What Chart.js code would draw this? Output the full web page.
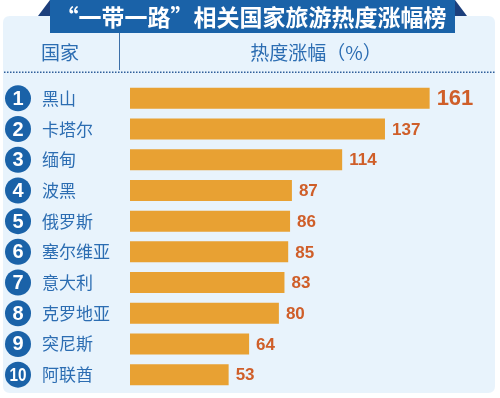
<!DOCTYPE html>
<html>
<head>
<meta charset="utf-8">
<script src="https://cdn.jsdelivr.net/npm/chart.js@4/dist/chart.umd.min.js"></script>
<style>
html,body{margin:0;padding:0;background:#fff;}
canvas{display:block;}
</style>
</head>
<body>
<canvas id="c" width="500" height="398"></canvas>
<script>
const title = '“一带一路”相关国家旅游热度涨幅榜';
const headerLeft = '国家';
const headerRight = '热度涨幅（%）';
const ranks = ['1','2','3','4','5','6','7','8','9','10'];
const categories = ['黑山','卡塔尔','缅甸','波黑','俄罗斯','塞尔维亚','意大利','克罗地亚','突尼斯','阿联酋'];
const values = [161,137,114,87,86,85,83,80,64,53];

const CJK = '"Noto Sans CJK SC","Noto Sans",sans-serif';
const LAT = '"Liberation Sans",Arial,sans-serif';
const BLUE_TXT = '#2c6db2';
const BANNER = '#1a62a8';
const EAR = '#1c3f7c';
const PANEL = '#e8f3fc';
const BAR = '#e8a133';
const VAL = '#cf5e29';

function roundRect(ctx,x,y,w,h,r){
  ctx.beginPath();
  ctx.moveTo(x+r,y);
  ctx.lineTo(x+w-r,y);ctx.quadraticCurveTo(x+w,y,x+w,y+r);
  ctx.lineTo(x+w,y+h-r);ctx.quadraticCurveTo(x+w,y+h,x+w-r,y+h);
  ctx.lineTo(x+r,y+h);ctx.quadraticCurveTo(x,y+h,x,y+h-r);
  ctx.lineTo(x,y+r);ctx.quadraticCurveTo(x,y,x+r,y);
  ctx.closePath();
}

const decor = {
  id:'decor',
  beforeDraw(chart){
    const ctx = chart.ctx;
    ctx.save();
    ctx.fillStyle='#fff';
    ctx.fillRect(0,0,chart.width,chart.height);
    // panel
    ctx.fillStyle=PANEL;
    roundRect(ctx,3,16,492,377,7);
    ctx.fill();
    // ears
    ctx.fillStyle=EAR;
    ctx.beginPath();ctx.moveTo(38,16);ctx.lineTo(50,0);ctx.lineTo(50,16);ctx.closePath();ctx.fill();
    ctx.beginPath();ctx.moveTo(455,0);ctx.lineTo(467,16);ctx.lineTo(455,16);ctx.closePath();ctx.fill();
    // banner
    ctx.fillStyle=BANNER;
    ctx.fillRect(50,0,405,33);
    ctx.fillStyle='#fff';
    ctx.font='bold 23px '+CJK;
    ctx.textAlign='center';ctx.textBaseline='middle';
    ctx.fillText(title,251,17);
    // header
    ctx.fillStyle=BLUE_TXT;
    ctx.font='19px '+CJK;
    ctx.fillText(headerLeft,60,53);
    ctx.fillText(headerRight,316,53);
    ctx.strokeStyle='#3c6fa8';
    ctx.lineWidth=1;
    ctx.beginPath();ctx.moveTo(119.5,33);ctx.lineTo(119.5,70);ctx.stroke();
    // dotted line
    ctx.fillStyle='#2f5f9a';
    for(let x=4;x<495;x+=3){ctx.fillRect(x,71.5,1.5,1.5);}
    ctx.restore();
  },
  afterDatasetsDraw(chart){
    const ctx = chart.ctx;
    const ys = chart.scales.y, xs = chart.scales.x;
    ctx.save();
    categories.forEach((name,i)=>{
      const y = ys.getPixelForValue(i);
      // rank circle
      ctx.fillStyle=BANNER;
      ctx.beginPath();ctx.arc(18,y,13,0,Math.PI*2);ctx.fill();
      ctx.fillStyle='#fff';
      ctx.textAlign='center';ctx.textBaseline='middle';
      if(ranks[i].length>1){
        ctx.font='bold 18px '+LAT;
        ctx.save();ctx.translate(18,y+1);ctx.scale(0.85,1);ctx.fillText(ranks[i],0,0);ctx.restore();
      } else {
        ctx.font='bold 20px '+LAT;
        ctx.fillText(ranks[i],18,y+1);
      }
      // name
      ctx.fillStyle=BLUE_TXT;
      ctx.textAlign='left';
      ctx.font='17px '+CJK;
      ctx.fillText(name,42,y);
      // value
      const xe = xs.getPixelForValue(values[i]);
      ctx.fillStyle=VAL;
      ctx.font = (i===0?'bold 22px ':'bold 17px ')+LAT;
      ctx.fillText(String(values[i]),xe+7,y+1);
    });
    ctx.restore();
  }
};

new Chart(document.getElementById('c'),{
  type:'bar',
  data:{labels:categories,datasets:[{data:values,backgroundColor:BAR,borderWidth:0,categoryPercentage:0.685,barPercentage:1}]},
  options:{
    indexAxis:'y',
    responsive:false,
    animation:false,
    devicePixelRatio:1,
    layout:{padding:{left:130,right:35,top:83,bottom:8}},
    plugins:{legend:{display:false},tooltip:{enabled:false}},
    scales:{
      x:{display:false,min:0,max:180},
      y:{display:false}
    }
  },
  plugins:[decor]
});
</script>
</body>
</html>
